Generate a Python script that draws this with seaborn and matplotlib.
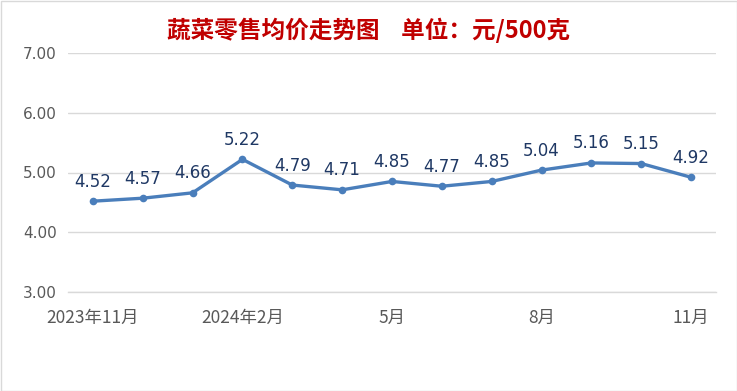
import matplotlib
matplotlib.use("Agg")
import matplotlib.pyplot as plt
import seaborn as sns
import pandas as pd
from matplotlib.patches import Rectangle

months = ["2023年11月", "12月", "2024年1月", "2024年2月", "3月", "4月", "5月",
          "6月", "7月", "8月", "9月", "10月", "11月"]
prices = [4.52, 4.57, 4.66, 5.22, 4.79, 4.71, 4.85, 4.77, 4.85, 5.04, 5.16, 5.15, 4.92]
shown_labels = ["2023年11月", "", "", "2024年2月", "", "", "5月", "", "", "8月", "", "", "11月"]
title = "蔬菜零售均价走势图    单位：元/500克"

sns.set_theme(style="white")
plt.rcParams['font.family'] = ['Noto Sans CJK SC', 'DejaVu Sans']

df = pd.DataFrame({"idx": range(len(months)), "price": prices})

fig = plt.figure(figsize=(7.37, 3.91), dpi=100)
ax = fig.add_axes([68/737, 1-292/391, (716-68)/737, (292-53)/391])

sns.lineplot(data=df, x="idx", y="price", ax=ax, color="#4A7EBB", linewidth=2.4,
             marker="o", markersize=5.5, markeredgewidth=0)

for i, v in enumerate(prices):
    ax.annotate(f"{v:.2f}", (i, v), xytext=(0, 14), textcoords="offset points",
                ha="center", va="center", fontsize=12, color="#1F3864",
                family=['DejaVu Sans'])

ax.set_xlim(-0.5, len(months) - 0.5)
ax.set_ylim(3, 7)
ax.set_yticks([3, 4, 5, 6, 7])
ax.set_yticklabels([f"{t:.2f}" for t in [3, 4, 5, 6, 7]], fontsize=11, color="#595959",
                   family=['DejaVu Sans'])
ax.set_xticks(range(len(months)))
ax.set_xticklabels(shown_labels, fontsize=12.5, color="#595959")
ax.set_xticks([i - 0.5 for i in range(len(months) + 1)], minor=True)
ax.tick_params(axis="x", which="major", length=0, pad=12)
ax.tick_params(axis="x", which="minor", length=7, direction="in", color="#D9D9D9", width=1)
ax.tick_params(axis="y", length=0, pad=8)
ax.set_xlabel("")
ax.set_ylabel("")
ax.grid(axis="y", color="#D9D9D9", linewidth=1)
ax.grid(axis="x", visible=False)
for s in ["left", "right", "top"]:
    ax.spines[s].set_visible(False)
ax.spines["bottom"].set_color("#D9D9D9")
ax.spines["bottom"].set_linewidth(1)

fig.text(0.5, 1-30/391, title, ha="center", va="center", fontsize=17,
         color="#C00000", fontweight="bold")

fig.patches.append(Rectangle((0.5/737, 0.5/391), 1-1/737, 1-1/391, transform=fig.transFigure,
                             fill=False, edgecolor="#D9D9D9", linewidth=1))

fig.savefig("out.png", dpi=100)
